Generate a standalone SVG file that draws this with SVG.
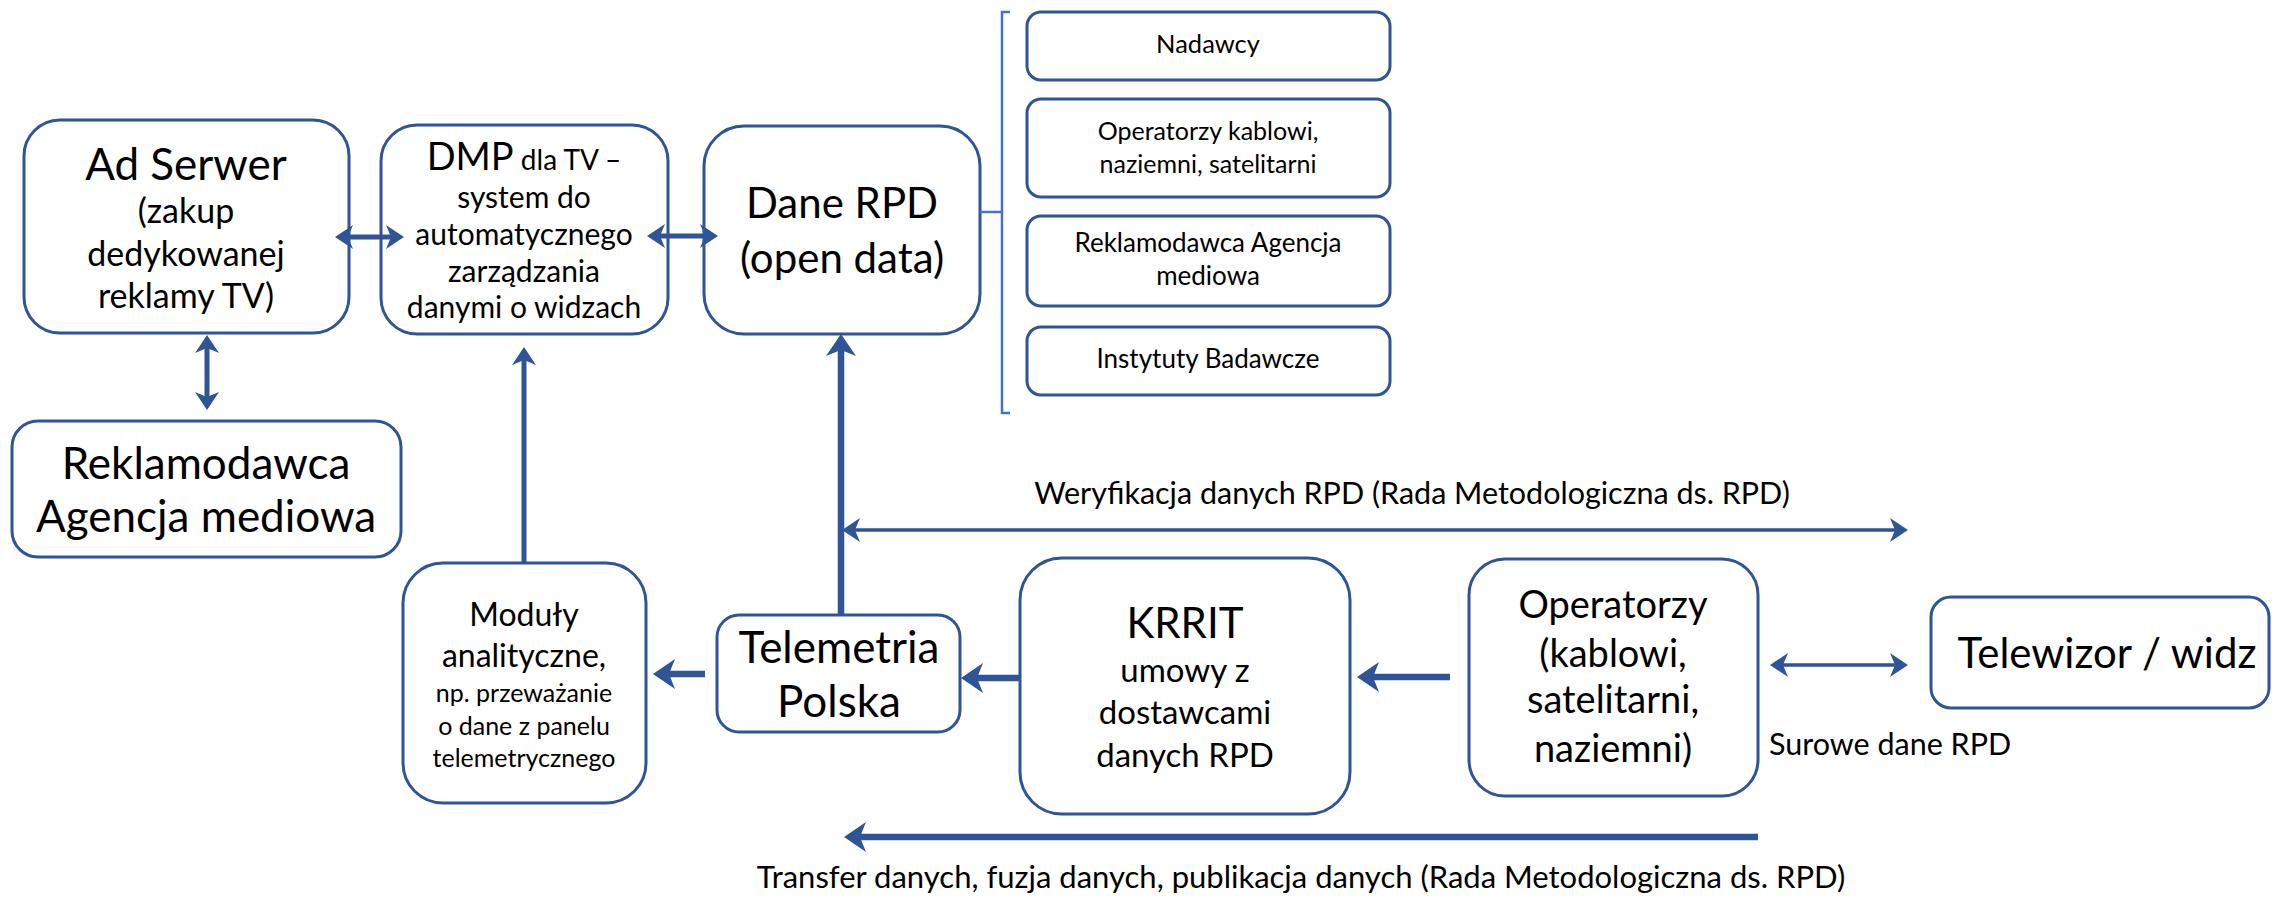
<svg xmlns="http://www.w3.org/2000/svg" width="2272" height="899" viewBox="0 0 2272 899">
  <defs>
    <style>
      .box { fill: #ffffff; stroke: #2F5597; stroke-width: 3; }
      .t { font-family: Lato, "Noto Sans", sans-serif; fill: #000; text-anchor: middle; }
      .lbl { font-family: Lato, "Noto Sans", sans-serif; fill: #000; }
      .conn { fill: none; stroke: #2F5597; }
      .thin { stroke-width: 3.5; }
      .mid { stroke-width: 5; }
      .thick { stroke-width: 6.5; }
      .brace { fill: none; stroke: #4472C4; stroke-width: 2.5; }
    </style>
    <marker id="hs" viewBox="0 0 18 24" refX="9" refY="12" markerWidth="18" markerHeight="24" markerUnits="userSpaceOnUse" orient="auto-start-reverse">
      <path d="M0,0 L18,12 L0,24 L5,12 z" fill="#2F5597"/>
    </marker>
    <marker id="hb" viewBox="0 0 22 30" refX="12" refY="15" markerWidth="22" markerHeight="30" markerUnits="userSpaceOnUse" orient="auto-start-reverse">
      <path d="M0,0 L22,15 L0,30 L6,15 z" fill="#2F5597"/>
    </marker>
  </defs>

  <rect width="2272" height="899" fill="#ffffff"/>

  <g id="ad-serwer">
    <rect class="box" x="24" y="120" width="325" height="213" rx="36"/>
    <text class="t" x="186" y="180" font-size="44">Ad Serwer</text>
    <text class="t" x="186" y="223" font-size="34">(zakup</text>
    <text class="t" x="186" y="266" font-size="34">dedykowanej</text>
    <text class="t" x="186" y="308" font-size="34">reklamy TV)</text>
  </g>

  <g id="dmp">
    <rect class="box" x="381" y="125" width="287" height="209" rx="36"/>
    <text class="t" x="524" y="170"><tspan font-size="38">DMP</tspan><tspan font-size="28"> dla TV –</tspan></text>
    <text class="t" x="524" y="208" font-size="30">system do</text>
    <text class="t" x="524" y="245" font-size="30">automatycznego</text>
    <text class="t" x="524" y="282" font-size="30">zarządzania</text>
    <text class="t" x="524" y="318" font-size="30">danymi o widzach</text>
  </g>

  <g id="dane-rpd">
    <rect class="box" x="704" y="126" width="276" height="208" rx="40"/>
    <text class="t" x="842" y="218" font-size="42">Dane RPD</text>
    <text class="t" x="842" y="273" font-size="42">(open data)</text>
  </g>

  <g id="reklamodawca">
    <rect class="box" x="12" y="421" width="389" height="136" rx="26"/>
    <text class="t" x="206" y="479" font-size="44">Reklamodawca</text>
    <text class="t" x="206" y="532" font-size="44">Agencja mediowa</text>
  </g>

  <g id="nadawcy">
    <rect class="box" x="1027" y="12" width="363" height="68" rx="14"/>
    <text class="t" x="1208" y="53" font-size="25.5">Nadawcy</text>
  </g>

  <g id="operatorzy-lista">
    <rect class="box" x="1027" y="99" width="363" height="98" rx="14"/>
    <text class="t" x="1208" y="140" font-size="25">Operatorzy kablowi,</text>
    <text class="t" x="1208" y="173" font-size="25">naziemni, satelitarni</text>
  </g>

  <g id="reklamodawca-lista">
    <rect class="box" x="1027" y="216" width="363" height="90" rx="14"/>
    <text class="t" x="1208" y="252" font-size="26">Reklamodawca Agencja</text>
    <text class="t" x="1208" y="285" font-size="26">mediowa</text>
  </g>

  <g id="instytuty">
    <rect class="box" x="1027" y="327" width="363" height="68" rx="14"/>
    <text class="t" x="1208" y="368" font-size="26">Instytuty Badawcze</text>
  </g>

  <g id="moduly">
    <rect class="box" x="403" y="563" width="243" height="240" rx="40"/>
    <text class="t" x="524" y="626" font-size="32">Moduły</text>
    <text class="t" x="524" y="667" font-size="32">analityczne,</text>
    <text class="t" x="524" y="702" font-size="25">np. przeważanie</text>
    <text class="t" x="524" y="735" font-size="25">o dane z panelu</text>
    <text class="t" x="524" y="767" font-size="25">telemetrycznego</text>
  </g>

  <g id="telemetria">
    <rect class="box" x="717" y="615" width="243" height="117" rx="22"/>
    <text class="t" x="839" y="663" font-size="44">Telemetria</text>
    <text class="t" x="839" y="717" font-size="44">Polska</text>
  </g>

  <g id="krrit">
    <rect class="box" x="1020" y="558" width="330" height="256" rx="42"/>
    <text class="t" x="1185" y="638" font-size="42">KRRIT</text>
    <text class="t" x="1185" y="682" font-size="33">umowy z</text>
    <text class="t" x="1185" y="724" font-size="33">dostawcami</text>
    <text class="t" x="1185" y="767" font-size="33">danych RPD</text>
  </g>

  <g id="operatorzy">
    <rect class="box" x="1469" y="559" width="289" height="237" rx="36"/>
    <text class="t" x="1613" y="618" font-size="38">Operatorzy</text>
    <text class="t" x="1613" y="667" font-size="38">(kablowi,</text>
    <text class="t" x="1613" y="713" font-size="38">satelitarni,</text>
    <text class="t" x="1613" y="762" font-size="38">naziemni)</text>
  </g>

  <g id="telewizor">
    <rect class="box" x="1931" y="597" width="338" height="111" rx="20"/>
    <text class="t" x="2107" y="668" font-size="42">Telewizor / widz</text>
  </g>

  <!-- connectors, drawn over the boxes so the arrowheads touch their edges -->
  <g id="connectors">
    <line class="conn mid" x1="344" y1="237" x2="395" y2="237" marker-start="url(#hs)" marker-end="url(#hs)"/>
    <line class="conn mid" x1="656" y1="236" x2="709" y2="236" marker-start="url(#hs)" marker-end="url(#hs)"/>
    <line class="conn mid" x1="207" y1="344" x2="207" y2="401" marker-start="url(#hs)" marker-end="url(#hs)"/>
    <line class="conn mid" x1="524" y1="562" x2="524" y2="356" marker-end="url(#hs)"/>
    <line class="conn thick" x1="841" y1="614" x2="841" y2="344" marker-end="url(#hb)"/>
    <line class="conn thick" x1="705" y1="674" x2="663" y2="674" marker-end="url(#hb)"/>
    <line class="conn thick" x1="1020" y1="678" x2="971" y2="678" marker-end="url(#hb)"/>
    <line class="conn thick" x1="1450" y1="677" x2="1367" y2="677" marker-end="url(#hb)"/>
    <line class="conn thin" x1="851" y1="530" x2="1899" y2="530" marker-start="url(#hs)" marker-end="url(#hs)"/>
    <line class="conn thin" x1="1779" y1="665" x2="1899" y2="665" marker-start="url(#hs)" marker-end="url(#hs)"/>
    <line class="conn thick" x1="1758" y1="837" x2="854" y2="837" marker-end="url(#hb)"/>
    <!-- bracket grouping the data sources -->
    <path class="brace" d="M1010,12 L1002,12 L1002,413 L1010,413 M980,212 L1002,212"/>
  </g>

  <g id="labels">
    <text class="t" x="1412" y="504" font-size="30.5">Weryfikacja danych RPD (Rada Metodologiczna ds. RPD)</text>
    <text class="lbl" x="1769" y="755" font-size="30.5">Surowe dane RPD</text>
    <text class="t" x="1301" y="888" font-size="31">Transfer danych, fuzja danych, publikacja danych (Rada Metodologiczna ds. RPD)</text>
  </g>
</svg>
